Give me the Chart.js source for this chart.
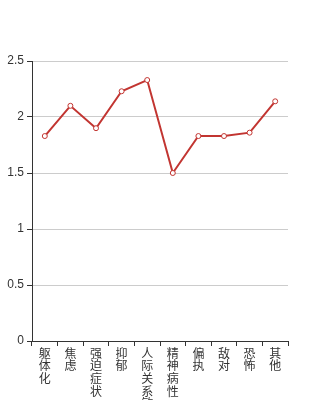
<!DOCTYPE html>
<html>
<head>
<meta charset="utf-8">
<script src="https://cdn.jsdelivr.net/npm/chart.js@4/dist/chart.umd.min.js"></script>
<style>
  body { margin: 0; background: #fff; }
  canvas { display: block; }
</style>
</head>
<body>
<canvas id="myChart" width="320" height="400"></canvas>
<script>
// data
const categories = ['躯体化', '焦虑', '强迫症状', '抑郁', '人际关系敏感', '精神病性', '偏执', '敌对', '恐怖', '其他'];
const scores = [1.83, 2.10, 1.90, 2.23, 2.33, 1.50, 1.83, 1.83, 1.86, 2.14];
const yTicks = [0, 0.5, 1, 1.5, 2, 2.5];

// vertical labels: one character per line
const verticalLabels = categories.map(function(c){ return c.split(''); });

const ctx = document.getElementById('myChart').getContext('2d');

let myChart = new Chart(ctx, {
  type: 'line',
  data: {
    labels: verticalLabels,
    datasets: [{
      data: scores,
      borderColor: '#c23531',
      borderWidth: 2,
      backgroundColor: '#fff',
      pointBackgroundColor: '#fff',
      pointBorderColor: '#c23531',
      pointBorderWidth: 1,
      pointRadius: 2.5,
      tension: 0,
      fill: false
    }]
  },
  options: {
    responsive: false,
    animation: false,
    layout: { padding: { top: 61, right: 32, left: 0, bottom: 0 } },
    plugins: { legend: { display: false }, tooltip: { enabled: false } },
    scales: {
      x: {
        offset: true,
        border: { color: '#333', width: 1 },
        grid: { offset: true, drawOnChartArea: false, tickLength: 5, tickColor: '#333' },
        ticks: {
          autoSkip: false,
          maxRotation: 0,
          minRotation: 0,
          padding: 1,
          color: '#333',
          font: { family: '"Noto Sans CJK SC", sans-serif', size: 12, lineHeight: 1.05 }
        },
        afterFit: function(scale){ scale.height = 59; }
      },
      y: {
        min: 0,
        max: 2.5,
        afterBuildTicks: function(scale){
          scale.ticks = yTicks.map(function(v){ return { value: v }; });
        },
        border: { color: '#333', width: 1 },
        grid: { color: '#ccc', tickLength: 5, tickColor: '#333' },
        ticks: {
          padding: 3,
          color: '#333',
          font: { family: '"Liberation Sans", Arial, sans-serif', size: 12 },
          callback: function(v){ return String(v); }
        },
        afterFit: function(scale){ scale.width = 32; }
      }
    }
  }
});
</script>
</body>
</html>
